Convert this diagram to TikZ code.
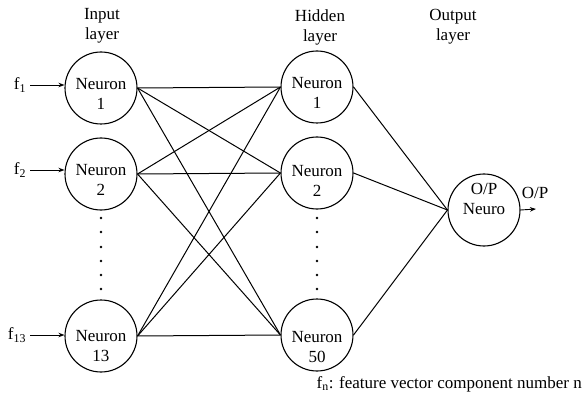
\documentclass[tikz,border=0pt]{standalone}
\usepackage{fontspec}
\setmainfont{Liberation Serif}
\usetikzlibrary{arrows.meta}
\tikzset{
  neuron/.style={draw, circle, minimum size=72pt, inner sep=0pt, line width=1.1pt},
  ntext/.style={align=center, inner sep=0pt, font=\fontsize{17}{20}\selectfont},
  head/.style={align=center, inner sep=0pt, font=\fontsize{17}{20}\selectfont},
  link/.style={line width=1pt},
  inarrow/.style={line width=0.9pt, -{Stealth[length=6pt,width=4.5pt]}},
  dotmark/.style={circle, fill, inner sep=0pt, minimum size=2.6pt}
}
\begin{document}
\begin{tikzpicture}[x=1pt, y=-1pt]
\useasboundingbox (0,0) rectangle (582,396);

% layer headings
\node[head] (hin)  at (102,26) {Input\\layer};
\node[head] (hhid) at (320,27) {Hidden\\layer};
\node[head] (hout) at (453,27) {Output\\layer};

% input layer
\node[neuron] (in1)  at (101,88)  {};
\node[neuron] (in2)  at (101,174) {};
\node[neuron] (in13) at (101,336) {};
\node[ntext] (in1t)  at (101,94)  {Neuron\\1};
\node[ntext] (in2t)  at (101,180) {Neuron\\2};
\node[ntext] (in13t) at (101,346) {Neuron\\13};

% hidden layer
\node[neuron] (h1)  at (317,87)  {};
\node[neuron] (h2)  at (317,173) {};
\node[neuron] (h50) at (317,335) {};
\node[ntext] (h1t)  at (317,93)  {Neuron\\1};
\node[ntext] (h2t)  at (317,181) {Neuron\\2};
\node[ntext] (h50t) at (317,347) {Neuron\\50};

% output neuron
\node[neuron] (out) at (484,210) {};
\node[ntext] (outt) at (484,199) {O/P\\Neuro};

% vertical ellipsis dots
\foreach \yy [count=\k] in {218,232,247,261,275,289} {
  \node[dotmark] (din\k)  at (101,\yy) {};
  \node[dotmark] (dhid\k) at (317,\yy) {};
}

% feature inputs
\node[ntext] (f1)  at (20,85)  {f\textsubscript{1}};
\node[ntext] (f2)  at (20,170) {f\textsubscript{2}};
\node[ntext] (f13) at (17,335) {f\textsubscript{13}};
\draw[inarrow] (f1.east)  ++(4,0) -- (f1 -| in1.west);
\draw[inarrow] (f2.east)  ++(4,0) -- (f2 -| in2.west);
\draw[inarrow] (f13.east) ++(4,0) -- (f13 -| in13.west);

% input -> hidden (fully connected)
\foreach \a in {in1,in2,in13} {
  \foreach \b in {h1,h2,h50} {
    \draw[link] (\a.east) -- (\b.west);
  }
}

% hidden -> output
\foreach \b in {h1,h2,h50} {
  \draw[link] (\b.east) -- (out.west);
}

% output arrow
\coordinate (oend) at (536,209);
\draw[inarrow] (out.east) -- (oend);
\node[ntext] (oplab) at (535,193) {O/P};

% legend
\node[ntext, anchor=east] (legend) at (582,384) {f\textsubscript{n}: feature vector component number n};
\end{tikzpicture}
\end{document}
